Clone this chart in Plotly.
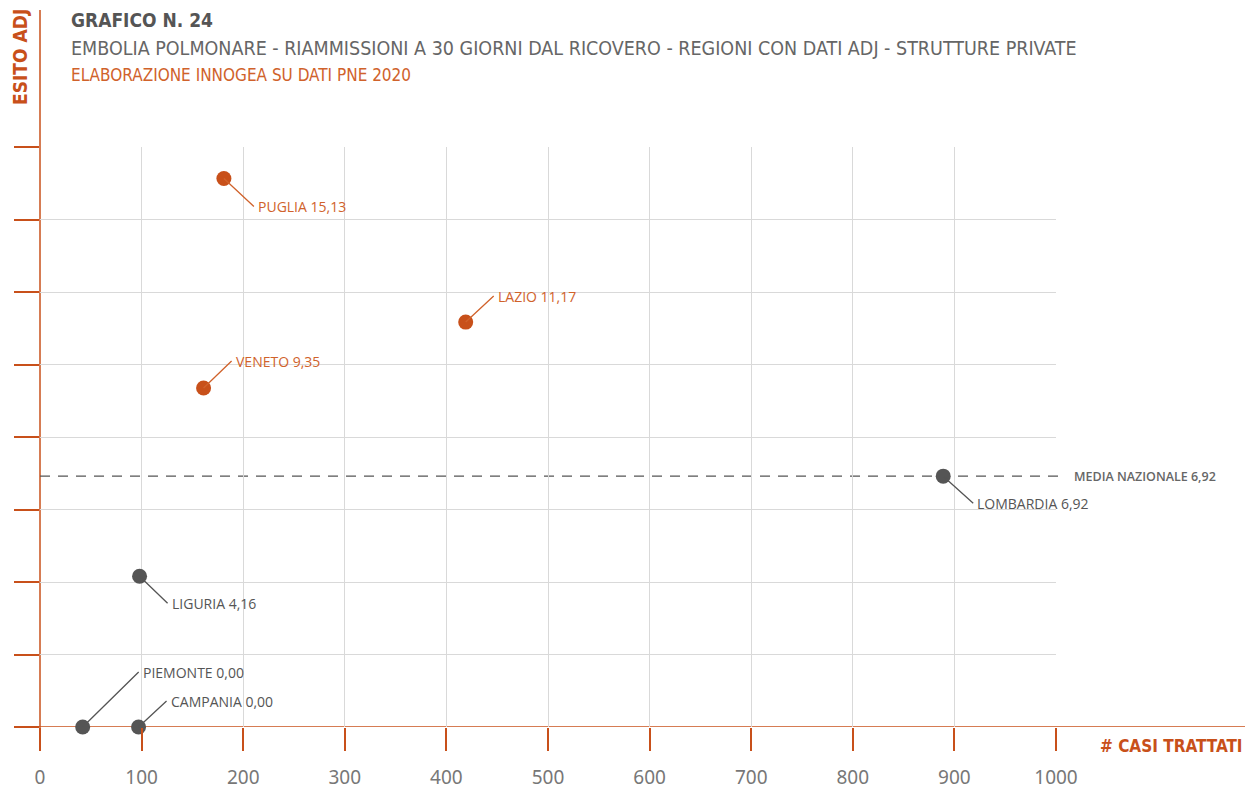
import plotly.graph_objects as go

# ---- data ----
regions = ["PUGLIA", "LAZIO", "VENETO", "LOMBARDIA", "LIGURIA", "PIEMONTE", "CAMPANIA"]
casi = [181, 419, 161, 889, 98, 42, 97]
esito = [15.13, 11.17, 9.35, 6.92, 4.16, 0.00, 0.00]
above_media = [True, True, True, False, False, False, False]
media_nazionale = 6.92
x_ticks = [0, 100, 200, 300, 400, 500, 600, 700, 800, 900, 1000]
y_ticks = [0, 2, 4, 6, 8, 10, 12, 14, 16]

# ---- styles ----
ORANGE = "#C8501A"
ORANGE_TXT = "#D0622B"
GRAY = "#555555"
GRID = "#D9D9D9"
LABEL_FONT = "Open Sans"
TITLE_FONT = "DejaVu Sans Condensed"

W, H = 1247, 793
L, R, T, B = 40, 191, 147, 66
pw, ph = W - L - R, H - T - B


def px(xp):
    return (xp - L) / pw


def py(yp):
    return (H - B - yp) / ph


# label offsets (pixels) per region
offsets = {
    "PUGLIA": (30, 28), "LAZIO": (28, -26), "VENETO": (28, -27),
    "LOMBARDIA": (30, 27), "LIGURIA": (28, 27), "PIEMONTE": (56, -55),
    "CAMPANIA": (28, -26),
}

colors = [ORANGE if a else GRAY for a in above_media]

fig = go.Figure()
fig.add_trace(go.Scatter(
    x=casi, y=esito, mode="markers",
    marker=dict(size=15, color=colors, line=dict(width=0)),
    cliponaxis=False, hoverinfo="skip", showlegend=False,
))

for r, xv, yv, a in zip(regions, casi, esito, above_media):
    ax, ay = offsets[r]
    c = ORANGE_TXT if a else GRAY
    fig.add_annotation(
        x=xv, y=yv, xref="x", yref="y",
        text=f"{r} {yv:.2f}".replace(".", ","),
        showarrow=True, arrowhead=0, arrowwidth=1.3, arrowcolor=c,
        ax=ax, ay=ay, xanchor="left", yanchor="middle", borderpad=3,
        font=dict(family=LABEL_FONT, size=14, color=c),
    )

# media nazionale label
fig.add_annotation(
    x=px(1072), xref="paper", y=media_nazionale, yref="y",
    text="MEDIA NAZIONALE 6,92",
    showarrow=False, xanchor="left", yanchor="middle",
    font=dict(family=LABEL_FONT, size=12.5, color="#666666", weight=600),
)

# titles
fig.add_annotation(x=px(69), y=py(20), xref="paper", yref="paper", text="<b>GRAFICO N. 24</b>",
                   showarrow=False, xanchor="left", yanchor="middle",
                   font=dict(family=TITLE_FONT, size=19, color=GRAY))
fig.add_annotation(x=px(69), y=py(48), xref="paper", yref="paper",
                   text="EMBOLIA POLMONARE - RIAMMISSIONI A 30 GIORNI DAL RICOVERO - REGIONI CON DATI ADJ - STRUTTURE PRIVATE",
                   showarrow=False, xanchor="left", yanchor="middle",
                   font=dict(family=TITLE_FONT, size=19.5, color="#666666"))
fig.add_annotation(x=px(69), y=py(75), xref="paper", yref="paper",
                   text="ELABORAZIONE INNOGEA SU DATI PNE 2020",
                   showarrow=False, xanchor="left", yanchor="middle",
                   font=dict(family=TITLE_FONT, size=17, color=ORANGE_TXT))

# axis titles
fig.add_annotation(x=px(20), y=py(57), xref="paper", yref="paper",
                   text="<b>ESITO ADJ</b>", textangle=-90, showarrow=False,
                   xanchor="center", yanchor="middle",
                   font=dict(family=TITLE_FONT, size=19, color=ORANGE))
fig.add_annotation(x=px(1245), y=py(746), xref="paper", yref="paper",
                   text="<b># CASI TRATTATI</b>", showarrow=False,
                   xanchor="right", yanchor="middle",
                   font=dict(family=TITLE_FONT, size=17, color=ORANGE))

# shapes: axis lines + media line
fig.add_shape(type="line", xref="paper", yref="paper",
              x0=0, x1=0, y0=py(750), y1=py(10),
              line=dict(color=ORANGE, width=1.5), layer="below")
fig.add_shape(type="line", xref="paper", yref="y",
              x0=px(15), x1=px(1245), y0=0, y1=0,
              line=dict(color=ORANGE, width=1.5), layer="below")
fig.add_shape(type="line", xref="paper", yref="y",
              x0=0, x1=px(1065), y0=media_nazionale, y1=media_nazionale,
              line=dict(color=GRAY, width=1.2, dash="10px,8px"), layer="below")

fig.update_xaxes(range=[0, 1000], tickvals=x_ticks, showgrid=True, gridcolor=GRID, gridwidth=1,
                 zeroline=False, showline=False, ticks="outside", ticklen=23, tickwidth=1.5,
                 tickcolor=ORANGE, ticklabelstandoff=10, automargin=False,
                 tickfont=dict(family="Noto Sans", size=19, color="#777777"))
fig.update_yaxes(range=[0, 16], tickvals=y_ticks, showgrid=True, gridcolor=GRID, gridwidth=1,
                 zeroline=False, showline=False, ticks="outside", ticklen=25, tickwidth=1.5,
                 tickcolor=ORANGE, showticklabels=False, automargin=False)

fig.update_layout(width=W, height=H, margin=dict(l=L, r=R, t=T, b=B, autoexpand=False),
                  plot_bgcolor="white", paper_bgcolor="white")

fig.write_html("out.html", config={"displayModeBar": False},
               post_script="document.body.style.margin='0';")
